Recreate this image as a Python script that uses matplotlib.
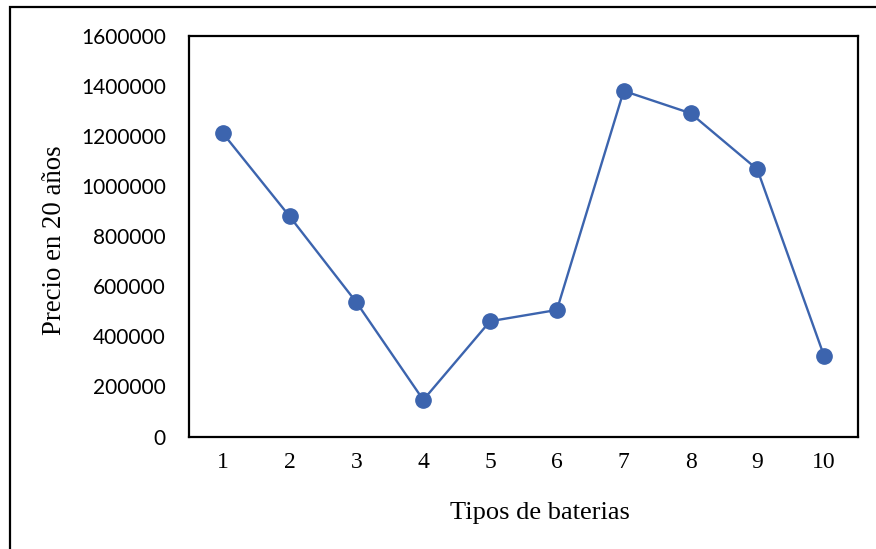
import matplotlib
matplotlib.use("Agg")
import matplotlib.pyplot as plt
from matplotlib.patches import Rectangle

# precio acumulado a 20 años por tipo de bateria
tipos = [1, 2, 3, 4, 5, 6, 7, 8, 9, 10]
precio = [1210000, 878000, 535000, 146000, 460000, 505000, 1379000, 1290000, 1066000, 321000]
yticks = [0, 200000, 400000, 600000, 800000, 1000000, 1200000, 1400000, 1600000]

AZUL = "#3C64AE"

fig = plt.figure(figsize=(8.76, 5.49), dpi=100)
ax = fig.add_axes([0.2163, 0.2049, 0.7626, 0.7304])

ax.plot(tipos, precio, color=AZUL, lw=1.7, marker="o", ms=11,
        markerfacecolor=AZUL, markeredgecolor=AZUL, solid_capstyle="round")

ax.set_xlim(0.5, 10.5)
ax.set_ylim(0, 1600000)
ax.set_xticks(tipos)
ax.set_xticklabels([str(t) for t in tipos], family="Liberation Serif", fontsize=17)
ax.set_yticks(yticks)
ax.set_yticklabels([str(v) for v in yticks], family="Lato", fontsize=15)
ax.tick_params(axis="y", length=0, pad=17)
ax.tick_params(axis="x", length=0, pad=11)

for s in ax.spines.values():
    s.set_linewidth(1.6)
    s.set_color("black")

fig.text(0.616, 0.066, "Tipos de baterias", family="Liberation Serif",
         fontsize=19, ha="center", va="center")
fig.text(0.062, 0.563, "Precio en 20 años", family="Liberation Serif",
         fontsize=19.3, ha="center", va="center", rotation=90)

# marco exterior (se corta por la derecha y por abajo)
fig.add_artist(Rectangle((9.5 / 876, -0.1), 1.2, 1.1 - 7 / 549,
                         transform=fig.transFigure, fill=False,
                         lw=1.6, edgecolor="black", clip_on=False))

fig.savefig("out.png", dpi=100)
